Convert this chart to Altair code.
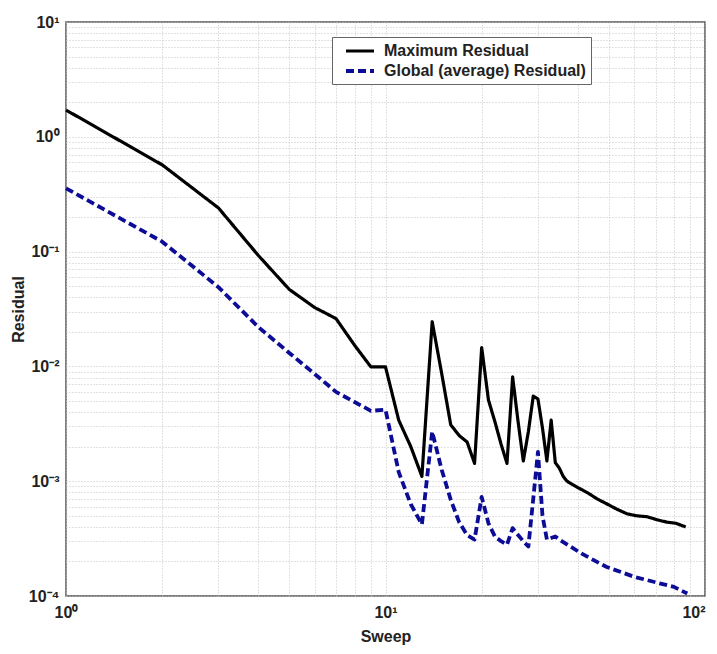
import altair as alt
import pandas as pd

series_names = ["Maximum Residual", "Global (average) Residual)"]
series_colors = ["#000000", "#0c0c96"]

max_sweep = [1, 2, 3, 4, 5, 6, 7, 8, 9, 10, 11, 12, 13, 14, 15, 16, 17, 18, 19, 20,
             21, 22, 23, 24, 25, 26, 27, 28, 29, 30, 31, 32, 33, 34, 35, 36, 37, 40,
             43, 46, 49, 53, 57, 61, 66, 71, 76, 81, 87]
max_resid = [1.71, 0.57, 0.24, 0.0925, 0.0468, 0.0326, 0.0261, 0.0153, 0.0099, 0.0099,
             0.0034, 0.0020, 0.0011, 0.0245, 0.0086, 0.0031, 0.0025, 0.0022, 0.00143, 0.0146,
             0.0051, 0.0033, 0.0021, 0.00143, 0.0081, 0.0033, 0.0015, 0.0027, 0.0055, 0.0052,
             0.0029, 0.0015, 0.0034, 0.00145, 0.0013, 0.0011, 0.00100, 0.00088,
             0.00079, 0.00070, 0.00064, 0.00057, 0.00052, 0.00050, 0.00049, 0.00046, 0.00044, 0.00043, 0.00040]

avg_sweep = [1, 2, 3, 4, 5, 6, 7, 8, 9, 10, 11, 12, 13, 14, 15, 16, 17, 18, 19, 20,
             21, 22, 23, 24, 25, 26, 27, 28, 29, 30, 31, 32, 33, 34, 35, 41, 49,
             60, 72, 80, 88]
avg_resid = [0.356, 0.122, 0.049, 0.022, 0.0131, 0.0086, 0.0060, 0.0049, 0.0041, 0.0042,
             0.0012, 0.00063, 0.00042, 0.0027, 0.00125, 0.00069, 0.00044, 0.00034, 0.00031, 0.00073,
             0.00043, 0.00033, 0.00030, 0.00028, 0.00039, 0.00034, 0.00030, 0.00027, 0.0007, 0.0018,
             0.0005, 0.00031, 0.00032, 0.00033, 0.00031, 0.000235, 0.00018,
             0.000147, 0.000129, 0.00012, 0.000105]

x_tick_values = [1, 2, 3, 4, 5, 6, 7, 8, 9, 10, 20, 30, 40, 50, 60, 70, 80, 90, 100]
y_tick_values = [m * 10.0 ** e for e in range(-4, 1) for m in range(1, 10)] + [10.0]
x_tick_labels = ["10⁰", "10¹", "10²"]
y_tick_labels = ["10⁻⁴", "10⁻³", "10⁻²", "10⁻¹", "10⁰", "10¹"]

df = pd.concat([
    pd.DataFrame({"sweep": max_sweep, "resid": max_resid, "series": series_names[0]}),
    pd.DataFrame({"sweep": avg_sweep, "resid": avg_resid, "series": series_names[1]}),
])


def label_expr(labels, low_exp):
    arr = "[" + ",".join("'" + s + "'" for s in labels) + "]"
    return ("abs(log(datum.value)/LN10 - round(log(datum.value)/LN10)) < 0.001 ? "
            + arr + "[round(log(datum.value)/LN10) - (" + str(low_exp) + ")] : ''")


FONT = "Liberation Sans"

chart = alt.Chart(df).mark_line(strokeJoin="round", strokeCap="butt").encode(
    x=alt.X("sweep:Q",
            scale=alt.Scale(type="log", domain=[1, 100], nice=False),
            axis=alt.Axis(values=x_tick_values, labelExpr=label_expr(x_tick_labels, 0),
                          labelAlign={"expr": "datum.value >= 99 ? 'right' : 'center'"},
                          title="Sweep", titleX=319.5, titleY=40, titleBaseline="middle",
                          titleAlign="center", labelPadding=8, labelBaseline="top")),
    y=alt.Y("resid:Q",
            scale=alt.Scale(type="log", domain=[1e-4, 10], nice=False),
            axis=alt.Axis(values=y_tick_values, labelExpr=label_expr(y_tick_labels, -4),
                          title="Residual", titleX=-48, titleY=287, titleAngle=270,
                          titleBaseline="middle", titleAlign="center", labelPadding=7,
                          labelBaseline="middle")),
    color=alt.Color("series:N",
                    scale=alt.Scale(domain=series_names, range=series_colors),
                    legend=alt.Legend(title=None)),
    strokeDash=alt.StrokeDash("series:N",
                              scale=alt.Scale(domain=series_names, range=[[1, 0], [8, 4]]),
                              legend=alt.Legend(title=None)),
    strokeWidth=alt.StrokeWidth("series:N",
                                scale=alt.Scale(domain=series_names, range=[3.2, 3.8]),
                                legend=None),
).properties(
    width=639, height=574,
    autosize=alt.AutoSizeParams(type="none"),
    padding={"left": 58, "top": 14, "right": 4, "bottom": 50},
).configure_view(
    stroke="#555555", strokeWidth=1.5
).configure_axis(
    grid=True, gridColor="#c4c4c4", gridDash=[1, 2], gridWidth=1,
    ticks=False, tickSize=0, domain=False,
    labelFont=FONT, labelFontSize=16, labelFontWeight="bold", labelColor="#222222",
    labelOverlap=False, labelFlush=False, labelBound=False,
    titleFont=FONT, titleFontSize=16, titleFontWeight="bold", titleColor="#222222",
).configure_legend(
    orient="none", legendX=266, legendY=15,
    padding=5, strokeColor="#666666", fillColor="white",
    labelFont=FONT, labelFontSize=16, labelFontWeight="bold", labelColor="#222222",
    symbolType="M0,0H4", symbolSize=196, symbolStrokeWidth=3.2,
    labelOffset=29, rowPadding=3, columnPadding=0, labelLimit=400,
)

chart.save("out.html", embed_options={"renderer": "svg", "actions": False})
